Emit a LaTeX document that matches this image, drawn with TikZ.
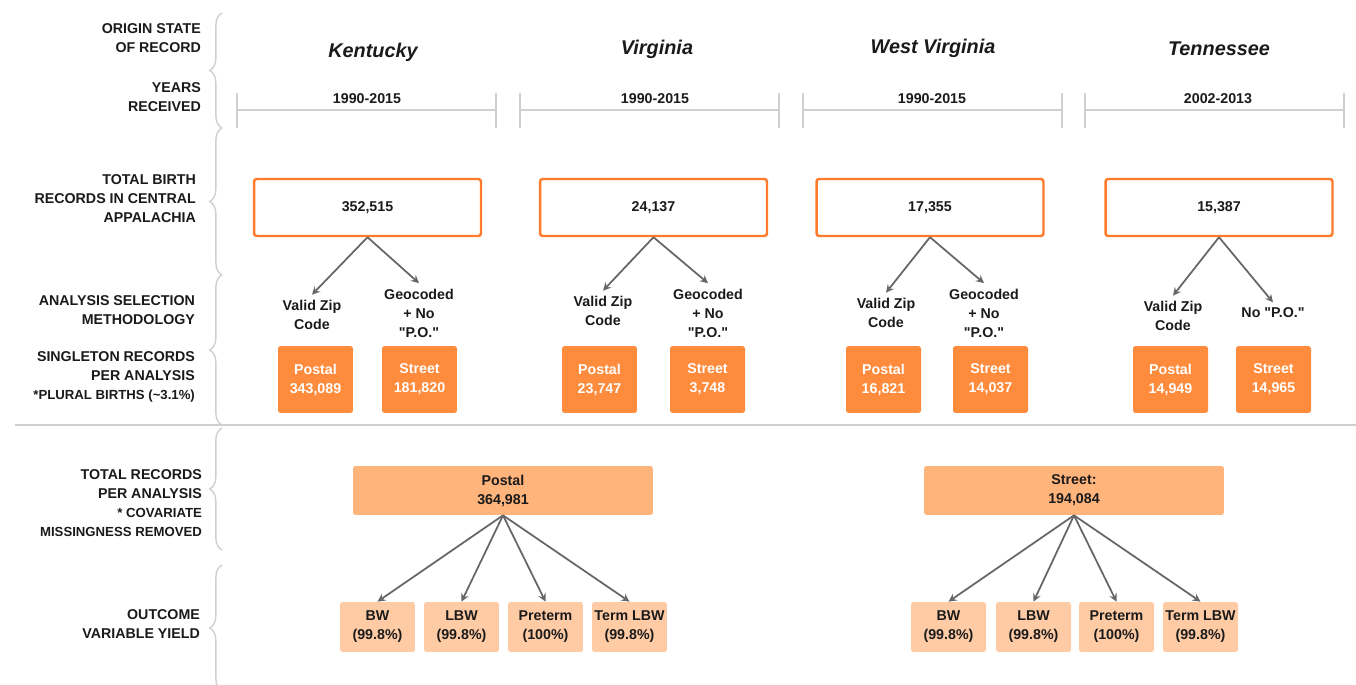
\documentclass[tikz,border=0pt]{standalone}
\usepackage{fontspec}
\setmainfont{Liberation Sans}
\usetikzlibrary{decorations.pathreplacing}

\definecolor{boxorange}{HTML}{FF7A2A}
\definecolor{solidorange}{HTML}{FF8B3D}
\definecolor{sumorange}{HTML}{FFB47C}
\definecolor{paleorange}{HTML}{FFCBA5}
\definecolor{rulegray}{HTML}{CFCFCF}
\definecolor{arrowgray}{HTML}{666666}
\definecolor{inkblack}{HTML}{1A1A1A}

\newcommand{\smallcaps}{\fontsize{7.5}{10.2}\selectfont}
\newcommand{\po}{\textquotedbl P.O.\textquotedbl}

\tikzset{
  every node/.style={text=inkblack, font=\fontsize{8.1}{10.8}\selectfont\bfseries, inner sep=1pt},
  rowlabel/.style={anchor=east, align=right},
  statename/.style={font=\fontsize{11.3}{13}\selectfont\bfseries\itshape},
  totalbox/.style={draw=boxorange, line width=1.4pt, rounded corners=1.5pt, fill=white,
    minimum width=4.54cm, minimum height=1.14cm},
  method/.style={align=center, inner sep=3pt},
  recbox/.style={fill=solidorange, text=white, rounded corners=1.5pt, align=center,
    minimum width=1.5cm, minimum height=1.34cm},
  sumbox/.style={fill=sumorange, rounded corners=1.5pt, align=center,
    minimum width=6cm, minimum height=0.98cm},
  outbox/.style={fill=paleorange, rounded corners=1.5pt, align=center,
    minimum width=1.5cm, minimum height=1cm},
  link/.style={draw=arrowgray, line width=1pt, -stealth},
  dimline/.style={draw=rulegray, line width=0.8pt},
  bracegray/.style={draw=rulegray, line width=0.8pt, decorate, decoration={brace, amplitude=7pt}}
}

\begin{document}
\begin{tikzpicture}[x=0.02cm, y=-0.02cm]
  \useasboundingbox (0,0) rectangle (1356,685);

  % etiquetas de filas
  \node[rowlabel] (lorigin) at (203,38) {ORIGIN STATE\\OF RECORD};
  \node[rowlabel] (lyears) at (203,97) {YEARS\\RECEIVED};
  \node[rowlabel] (ltotal) at (198,199) {TOTAL BIRTH\\RECORDS IN CENTRAL\\APPALACHIA};
  \node[rowlabel] (lmethod) at (197,310) {ANALYSIS SELECTION\\METHODOLOGY};
  \node[rowlabel] (lsingle) at (197,377) {SINGLETON RECORDS\\PER ANALYSIS\\{\smallcaps *PLURAL BIRTHS (\textasciitilde3.1\%)}};
  \node[rowlabel] (lrecords) at (204,503) {TOTAL RECORDS\\PER ANALYSIS\\{\smallcaps * COVARIATE}\\{\smallcaps MISSINGNESS REMOVED}};
  \node[rowlabel] (loutcome) at (202,624) {OUTCOME\\VARIABLE YIELD};

  % llaves
  \draw[bracegray] (222,128) -- (222,13);
  \draw[bracegray] (222,275) -- (222,128);
  \draw[bracegray] (222,425) -- (222,275);
  \draw[bracegray] (222,550) -- (222,428);
  \draw[bracegray] (222,691) -- (222,565);

  \draw[draw=rulegray, line width=0.6pt] (15,425) -- (1356,425);

  % estados
  \node[statename] (kyname) at (373,52) {Kentucky};
  \node[statename] (vaname) at (657,49) {Virginia};
  \node[statename] (wvname) at (933,48) {West Virginia};
  \node[statename] (tnname) at (1219,49) {Tennessee};

  % años
  \draw[dimline] (237,93) -- (237,128) (237,110) -- (496,110) (496,93) -- (496,128);
  \draw[dimline] (520,93) -- (520,128) (520,110) -- (779,110) (779,93) -- (779,128);
  \draw[dimline] (803,93) -- (803,128) (803,110) -- (1062,110) (1062,93) -- (1062,128);
  \draw[dimline] (1085,93) -- (1085,128) (1085,110) -- (1344,110) (1344,93) -- (1344,128);
  \node (kyyears) at (367,99) {1990-2015};
  \node (vayears) at (655,99) {1990-2015};
  \node (wvyears) at (932,99) {1990-2015};
  \node (tnyears) at (1218,99) {2002-2013};

  % totales
  \node[totalbox] (ky) at (367.5,207.5) {352,515};
  \node[totalbox] (va) at (653.5,207.5) {24,137};
  \node[totalbox] (wv) at (930,207.5) {17,355};
  \node[totalbox] (tn) at (1219,207.5) {15,387};

  % metodologia
  \node[method] (kyzip) at (312,315) {Valid Zip\\Code};
  \node[method] (kygeo) at (419,313) {Geocoded\\+ No\\\po};
  \node[method] (vazip) at (603,311) {Valid Zip\\Code};
  \node[method] (vageo) at (708,313) {Geocoded\\+ No\\\po};
  \node[method] (wvzip) at (886,313) {Valid Zip\\Code};
  \node[method] (wvgeo) at (984,313) {Geocoded\\+ No\\\po};
  \node[method] (tnzip) at (1173,316) {Valid Zip\\Code};
  \node[method] (tngeo) at (1273,313) {No \po};

  \draw[link] (ky.south) -- (kyzip.north);
  \draw[link] (ky.south) -- (kygeo.north);
  \draw[link] (va.south) -- (vazip.north);
  \draw[link] (va.south) -- (vageo.north);
  \draw[link] (wv.south) -- (wvzip.north);
  \draw[link] (wv.south) -- (wvgeo.north);
  \draw[link] (tn.south) -- (tnzip.north);
  \draw[link] (tn.south) -- (tngeo.north);

  % registros por analisis
  \node[recbox] (kypostal) at (315.5,379.5) {Postal\\343,089};
  \node[recbox] (kystreet) at (419.5,379.5) {Street\\181,820};
  \node[recbox] (vapostal) at (599.5,379.5) {Postal\\23,747};
  \node[recbox] (vastreet) at (707.5,379.5) {Street\\3,748};
  \node[recbox] (wvpostal) at (883.5,379.5) {Postal\\16,821};
  \node[recbox] (wvstreet) at (990.5,379.5) {Street\\14,037};
  \node[recbox] (tnpostal) at (1170.5,379.5) {Postal\\14,949};
  \node[recbox] (tnstreet) at (1273.5,379.5) {Street\\14,965};

  % totales por analisis
  \node[sumbox] (postal) at (503,490.5) {Postal\\364,981};
  \node[sumbox] (street) at (1074,490.5) {Street:\\194,084};

  \node[outbox] (pbw) at (377.5,627) {BW\\(99.8\%)};
  \node[outbox] (plbw) at (461.5,627) {LBW\\(99.8\%)};
  \node[outbox] (ppre) at (545.5,627) {Preterm\\(100\%)};
  \node[outbox] (pterm) at (629.5,627) {Term LBW\\(99.8\%)};
  \node[outbox] (sbw) at (948.5,627) {BW\\(99.8\%)};
  \node[outbox] (slbw) at (1033.5,627) {LBW\\(99.8\%)};
  \node[outbox] (spre) at (1116.5,627) {Preterm\\(100\%)};
  \node[outbox] (sterm) at (1200.5,627) {Term LBW\\(99.8\%)};

  \draw[link] (postal.south) -- (pbw.north);
  \draw[link] (postal.south) -- (plbw.north);
  \draw[link] (postal.south) -- (ppre.north);
  \draw[link] (postal.south) -- (pterm.north);
  \draw[link] (street.south) -- (sbw.north);
  \draw[link] (street.south) -- (slbw.north);
  \draw[link] (street.south) -- (spre.north);
  \draw[link] (street.south) -- (sterm.north);
\end{tikzpicture}
\end{document}
